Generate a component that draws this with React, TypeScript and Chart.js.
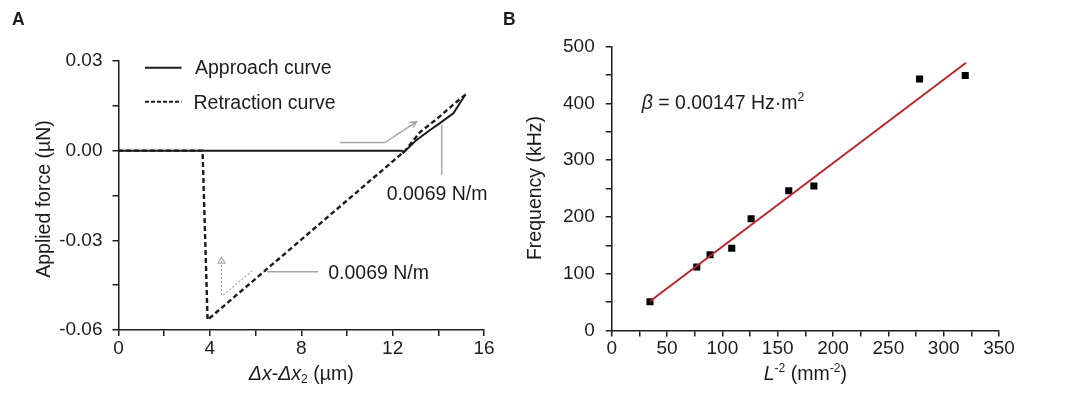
import React, { useEffect, useRef } from 'react';
import { Chart, registerables } from 'chart.js';

Chart.register(...registerables);

// ---------- Panel A data ----------
const approachX = [0, 12.4, 12.47, 13.05, 13.64, 14.07, 14.66, 15.17];
const approachY = [0, 0, -0.0007, 0.0036, 0.0069, 0.0092, 0.0125, 0.0186];
const retractionX = [15.2, 14.73, 13.93, 13.2, 12.55, 3.9, 3.68, 0];
const retractionY = [0.0188, 0.0159, 0.0106, 0.0062, 0.0, -0.0566, 0.0, 0.0];

const forceXMajor = [0, 4, 8, 12, 16];
const forceXLabels = ['0', '4', '8', '12', '16'];
const forceXMinor = [2, 6, 10, 14];
const forceYMajor = [-0.06, -0.03, 0, 0.03];
const forceYLabels = ['-0.06', '-0.03', '0.00', '0.03'];
const forceYMinor = [-0.045, -0.015, 0.015];

// annotation anchors (data units)
const upperArrowX = [9.7, 11.66, 13.05];
const upperArrowY = [0.0027, 0.0027, 0.0097];
const upperLeaderX = [14.15, 14.15];
const upperLeaderY = [0.0086, -0.0081];
const upperLabelPos = [11.74, -0.0142];
const lowerLeaderX = [6.51, 8.74];
const lowerLeaderY = [-0.0405, -0.0405];
const lowerLabelPos = [9.18, -0.0405];
const dottedArrowX = [4.51, 4.51];
const dottedArrowY = [-0.0483, -0.036];
const dottedDiagX = [4.58, 5.9];
const dottedDiagY = [-0.0483, -0.0399];
const stiffnessLabel = '0.0069 N/m';

// ---------- Panel B data ----------
const lengthX = [34.6, 76.9, 88.9, 108.5, 126, 160, 182.7, 278.2, 319.5];
const frequencyY = [50.7, 111.8, 133.5, 144.7, 196.8, 246, 254.4, 442.8, 449];
const fitX = [34.6, 320.2];
const fitY = [51.5, 471.5];

const lenXMajor = [0, 50, 100, 150, 200, 250, 300, 350];
const lenXLabels = ['0', '50', '100', '150', '200', '250', '300', '350'];
const lenXMinor = [25, 75, 125, 175, 225, 275, 325];
const freqYMajor = [0, 100, 200, 300, 400, 500];
const freqYLabels = ['0', '100', '200', '300', '400', '500'];
const freqYMinor = [50, 150, 250, 350, 450];

const FONT = '"Liberation Sans", Arial, Helvetica, sans-serif';
const INK = '#1c1c1c';
const GRAY = '#a6a6a6';
const RED = '#b3282c';
const TXT = 19.5;

type Seg = { t: string; italic?: boolean; sup?: boolean; sub?: boolean };

function setFont(ctx: CanvasRenderingContext2D, size: number, italic = false, bold = false) {
  ctx.font = `${italic ? 'italic ' : ''}${bold ? 'bold ' : ''}${size}px ${FONT}`;
}

function richWidth(ctx: CanvasRenderingContext2D, segs: Seg[], size: number) {
  let w = 0;
  for (const s of segs) {
    setFont(ctx, s.sup || s.sub ? size * 0.62 : size, !!s.italic);
    w += ctx.measureText(s.t).width;
  }
  return w;
}

function drawRich(
  ctx: CanvasRenderingContext2D,
  segs: Seg[],
  x: number,
  y: number,
  size: number,
  align: 'left' | 'center'
) {
  const total = richWidth(ctx, segs, size);
  let cx = align === 'center' ? x - total / 2 : x;
  ctx.textAlign = 'left';
  ctx.textBaseline = 'alphabetic';
  ctx.fillStyle = INK;
  for (const s of segs) {
    const sz = s.sup || s.sub ? size * 0.62 : size;
    setFont(ctx, sz, !!s.italic);
    const dy = s.sup ? -size * 0.4 : s.sub ? size * 0.2 : 0;
    ctx.fillText(s.t, cx, y + dy);
    cx += ctx.measureText(s.t).width;
  }
}

function tickCallback(major: number[], labels: string[]) {
  return (value: any) => {
    const v = Number(value);
    const i = major.findIndex((m) => Math.abs(m - v) < 1e-9);
    return i >= 0 ? labels[i] : '';
  };
}

function axisOpts(min: number, max: number, major: number[], minor: number[], labels: string[], pad: number, size: number | null, isY: boolean) {
  return {
    type: 'linear' as const,
    min,
    max,
    afterBuildTicks: (scale: any) => {
      scale.ticks = [...major, ...minor].sort((a, b) => a - b).map((v) => ({ value: v }));
    },
    afterFit: (scale: any) => {
      if (size !== null) {
        if (isY) scale.width = size;
        else scale.height = size;
      }
    },
    grid: {
      display: true,
      drawOnChartArea: false,
      drawTicks: true,
      tickLength: 6,
      color: INK,
      lineWidth: 1.5,
    },
    border: { display: true, color: INK, width: 1.5 },
    ticks: {
      autoSkip: false,
      maxRotation: 0,
      padding: pad,
      color: INK,
      font: { family: FONT, size: 19, lineHeight: 1.2 },
      callback: tickCallback(major, labels),
    },
    title: { display: false },
  };
}

function arrowHead(ctx: CanvasRenderingContext2D, fx: number, fy: number, tx: number, ty: number, len: number) {
  const a = Math.atan2(ty - fy, tx - fx);
  ctx.beginPath();
  ctx.moveTo(tx - len * Math.cos(a - 0.45), ty - len * Math.sin(a - 0.45));
  ctx.lineTo(tx, ty);
  ctx.lineTo(tx - len * Math.cos(a + 0.45), ty - len * Math.sin(a + 0.45));
  ctx.stroke();
}

const panelAPlugin = {
  id: 'panelA',
  afterDraw(chart: any) {
    const ctx: CanvasRenderingContext2D = chart.ctx;
    const xs = chart.scales.x;
    const ys = chart.scales.y;
    const area = chart.chartArea;
    const px = (v: number) => xs.getPixelForValue(v);
    const py = (v: number) => ys.getPixelForValue(v);
    ctx.save();

    // panel letter
    setFont(ctx, 17.5, false, true);
    ctx.fillStyle = INK;
    ctx.textAlign = 'left';
    ctx.textBaseline = 'alphabetic';
    ctx.fillText('A', 12, 24.5);

    // legend
    const lx0 = area.left + 26.5;
    const lx1 = area.left + 63;
    ctx.strokeStyle = INK;
    ctx.lineWidth = 2;
    ctx.setLineDash([]);
    ctx.beginPath();
    ctx.moveTo(lx0, area.top + 6.7);
    ctx.lineTo(lx1, area.top + 6.7);
    ctx.stroke();
    ctx.setLineDash([4, 2]);
    ctx.beginPath();
    ctx.moveTo(lx0, area.top + 40.7);
    ctx.lineTo(lx1, area.top + 40.7);
    ctx.stroke();
    ctx.setLineDash([]);
    drawRich(ctx, [{ t: 'Approach curve' }], area.left + 76.5, area.top + 13.3, TXT, 'left');
    drawRich(ctx, [{ t: 'Retraction curve' }], area.left + 75, area.top + 47.5, TXT, 'left');

    // gray annotations
    ctx.strokeStyle = GRAY;
    ctx.lineWidth = 1.5;
    ctx.beginPath();
    ctx.moveTo(px(upperArrowX[0]), py(upperArrowY[0]));
    for (let i = 1; i < upperArrowX.length; i++) ctx.lineTo(px(upperArrowX[i]), py(upperArrowY[i]));
    ctx.stroke();
    arrowHead(ctx, px(upperArrowX[1]), py(upperArrowY[1]), px(upperArrowX[2]), py(upperArrowY[2]), 7);

    ctx.beginPath();
    ctx.moveTo(px(upperLeaderX[0]), py(upperLeaderY[0]));
    ctx.lineTo(px(upperLeaderX[1]), py(upperLeaderY[1]));
    ctx.stroke();

    ctx.beginPath();
    ctx.moveTo(px(lowerLeaderX[0]), py(lowerLeaderY[0]));
    ctx.lineTo(px(lowerLeaderX[1]), py(lowerLeaderY[1]));
    ctx.stroke();

    ctx.lineWidth = 1.2;
    ctx.setLineDash([2, 2]);
    ctx.beginPath();
    ctx.moveTo(px(dottedArrowX[0]), py(dottedArrowY[0]));
    ctx.lineTo(px(dottedArrowX[1]), py(dottedArrowY[1]));
    ctx.stroke();
    ctx.beginPath();
    ctx.moveTo(px(dottedDiagX[0]), py(dottedDiagY[0]));
    ctx.lineTo(px(dottedDiagX[1]), py(dottedDiagY[1]));
    ctx.stroke();
    ctx.setLineDash([]);
    // open arrow head on dotted vertical
    const hx = px(dottedArrowX[1]);
    const hy = py(dottedArrowY[1]);
    ctx.beginPath();
    ctx.moveTo(hx - 3.5, hy + 5);
    ctx.lineTo(hx, hy - 1);
    ctx.lineTo(hx + 3.5, hy + 5);
    ctx.closePath();
    ctx.stroke();

    // stiffness labels
    drawRich(ctx, [{ t: stiffnessLabel }], px(upperLabelPos[0]), py(upperLabelPos[1]) + 7, TXT, 'left');
    drawRich(ctx, [{ t: stiffnessLabel }], px(lowerLabelPos[0]), py(lowerLabelPos[1]) + 7, TXT, 'left');

    // axis titles
    drawRich(
      ctx,
      [{ t: 'Δx', italic: true }, { t: '-' }, { t: 'Δx', italic: true }, { t: '2', sub: true }, { t: ' (µm)' }],
      (area.left + area.right) / 2,
      379.5,
      TXT,
      'center'
    );
    ctx.save();
    ctx.translate(50, 199);
    ctx.rotate(-Math.PI / 2);
    drawRich(ctx, [{ t: 'Applied force (µN)' }], 0, 0, TXT, 'center');
    ctx.restore();

    ctx.restore();
  },
};

const panelBPlugin = {
  id: 'panelB',
  afterDraw(chart: any) {
    const ctx: CanvasRenderingContext2D = chart.ctx;
    const area = chart.chartArea;
    ctx.save();
    setFont(ctx, 17.5, false, true);
    ctx.fillStyle = INK;
    ctx.textAlign = 'left';
    ctx.textBaseline = 'alphabetic';
    ctx.fillText('B', 3, 24.5);

    drawRich(
      ctx,
      [{ t: 'β', italic: true }, { t: ' = 0.00147 Hz·m' }, { t: '2', sup: true }],
      area.left + 30,
      108.5,
      TXT,
      'left'
    );

    drawRich(
      ctx,
      [{ t: 'L', italic: true }, { t: '-2', sup: true }, { t: ' (mm' }, { t: '-2', sup: true }, { t: ')' }],
      (area.left + area.right) / 2,
      380,
      TXT,
      'center'
    );

    ctx.save();
    ctx.translate(41, 188);
    ctx.rotate(-Math.PI / 2);
    drawRich(ctx, [{ t: 'Frequency (kHz)' }], 0, 0, TXT, 'center');
    ctx.restore();
    ctx.restore();
  },
};

function PanelA() {
  const ref = useRef<HTMLCanvasElement>(null);
  useEffect(() => {
    if (!ref.current) return;
    const chart = new Chart(ref.current, {
      type: 'line',
      data: {
        datasets: [
          {
            label: 'Approach curve',
            data: approachX.map((x, i) => ({ x, y: approachY[i] })),
            borderColor: INK,
            borderWidth: 2,
            pointRadius: 0,
            fill: false,
            tension: 0,
            order: 0,
          },
          {
            label: 'Retraction curve',
            data: retractionX.map((x, i) => ({ x, y: retractionY[i] })),
            borderColor: INK,
            borderWidth: 2.4,
            borderDash: [5, 3],
            pointRadius: 0,
            fill: false,
            tension: 0,
            order: 1,
          },
        ],
      },
      options: {
        animation: false,
        responsive: false,
        events: [],
        layout: { padding: { left: 0, top: 61, right: 16, bottom: 0 } },
        plugins: { legend: { display: false }, tooltip: { enabled: false } },
        scales: {
          x: axisOpts(0, 16, forceXMajor, forceXMinor, forceXLabels, 1, 67, false) as any,
          y: axisOpts(-0.06, 0.03, forceYMajor, forceYMinor, forceYLabels, 10, 118.5, true) as any,
        },
      },
      plugins: [panelAPlugin],
    });
    return () => chart.destroy();
  }, []);
  return <canvas ref={ref} width={500} height={397} style={{ position: 'absolute', left: 0, top: 0, width: 500, height: 397 }} />;
}

function PanelB() {
  const ref = useRef<HTMLCanvasElement>(null);
  useEffect(() => {
    if (!ref.current) return;
    const chart = new Chart(ref.current, {
      type: 'line',
      data: {
        datasets: [
          {
            label: 'Linear fit',
            data: fitX.map((x, i) => ({ x, y: fitY[i] })),
            borderColor: RED,
            borderWidth: 2,
            pointRadius: 0,
            fill: false,
            order: 0,
          },
          {
            label: 'Measured',
            data: lengthX.map((x, i) => ({ x, y: frequencyY[i] })),
            showLine: false,
            pointStyle: 'rect',
            pointRadius: 5,
            pointBackgroundColor: '#000',
            pointBorderColor: '#000',
            pointBorderWidth: 0,
            order: 1,
          },
        ],
      },
      options: {
        animation: false,
        responsive: false,
        events: [],
        layout: { padding: { left: 0, top: 46.5, right: 81, bottom: 0 } },
        plugins: { legend: { display: false }, tooltip: { enabled: false } },
        scales: {
          x: axisOpts(0, 350, lenXMajor, lenXMinor, lenXLabels, 1, 66.5, false) as any,
          y: axisOpts(0, 500, freqYMajor, freqYMinor, freqYLabels, 11, 111.7, true) as any,
        },
      },
      plugins: [panelBPlugin],
    });
    return () => chart.destroy();
  }, []);
  return <canvas ref={ref} width={580} height={397} style={{ position: 'absolute', left: 500, top: 0, width: 580, height: 397 }} />;
}

export default function App() {
  return (
    <div style={{ position: 'fixed', left: 0, top: 0, width: 1080, height: 397, background: '#fff', overflow: 'hidden' }}>
      <PanelA />
      <PanelB />
    </div>
  );
}
